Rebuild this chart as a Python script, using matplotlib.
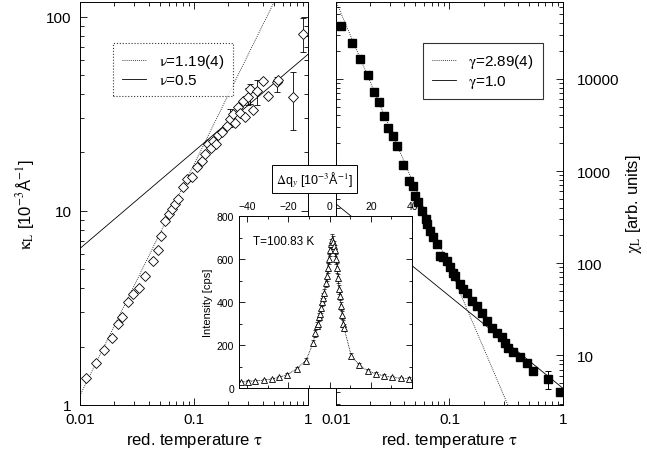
import matplotlib.pyplot as plt
from matplotlib.ticker import FuncFormatter, MultipleLocator, NullFormatter, LogLocator

plt.rcParams['font.family'] = 'Liberation Sans'
plt.rcParams['mathtext.fontset'] = 'stix'

# inverse correlation length kappa_L vs reduced temperature
tau_k = [0.0113, 0.0138, 0.0162, 0.0191, 0.0215, 0.0233, 0.0264, 0.0292, 0.033, 0.037,
         0.0437, 0.048, 0.051, 0.0557, 0.060, 0.064, 0.068, 0.0724, 0.080, 0.0866,
         0.096, 0.106, 0.117, 0.124, 0.133, 0.140, 0.147, 0.155, 0.162, 0.176,
         0.195, 0.207, 0.22, 0.23, 0.243, 0.255, 0.27, 0.28, 0.297, 0.31,
         0.33, 0.36, 0.40, 0.445, 0.53, 0.55, 0.74, 0.90]
kappa = [1.38, 1.65, 1.92, 2.21, 2.61, 2.84, 3.39, 3.73, 4.0, 4.63,
         5.5, 6.3, 7.4, 8.9, 9.6, 10.2, 10.8, 11.5, 13.3, 14.6,
         15.0, 16.8, 18.1, 19.6, 22.0, 21.0, 23.0, 22.0, 24.5, 25.5,
         27.5, 29.8, 31.6, 28.5, 34.4, 32.0, 37.0, 30.5, 38.7, 42.5,
         33.0, 41.5, 46.8, 39.0, 46.0, 47.0, 38.6, 81.0]
# points that carry error bars: tau, value, lower, upper
tau_k_err = [0.207, 0.297, 0.31, 0.36, 0.53, 0.74, 0.90]
kappa_err = [29.8, 38.7, 42.5, 41.5, 46.0, 38.6, 81.0]
kappa_lo = [27.0, 35.0, 35.6, 35.0, 41.0, 26.0, 66.0]
kappa_hi = [33.6, 43.0, 45.0, 47.0, 49.0, 52.0, 98.0]

# susceptibility chi_L vs reduced temperature
tau_c = [0.0111, 0.0138, 0.0163, 0.0191, 0.0216, 0.0239, 0.0265, 0.0287, 0.0318, 0.0345,
         0.039, 0.044, 0.0476, 0.0497, 0.053, 0.057, 0.0615, 0.063, 0.068, 0.072,
         0.077, 0.082, 0.088, 0.095, 0.101, 0.107, 0.112, 0.124, 0.131, 0.142,
         0.157, 0.174, 0.193, 0.214, 0.237, 0.262, 0.29, 0.308, 0.33, 0.36,
         0.42, 0.48, 0.54, 0.74, 0.94]
chi = [37800, 24600, 16500, 11000, 7200, 5600, 3960, 2940, 2400, 1870,
       1170, 780, 690, 535, 460, 370, 300, 265, 222, 192,
       161, 120, 118, 105, 91, 79, 72, 60, 52, 47,
       39, 34, 28.5, 23.5, 20, 17.7, 15.8, 13.5, 12, 10.8,
       9.6, 8.3, 6.7, 5.6, 4.0]
tau_c_err = [0.74]
chi_err = [5.6]
chi_lo = [4.3]
chi_hi = [6.8]

# power laws: exponent and amplitude at tau = 0.01
nu_exp = [1.19, 0.5]
nu_amp = [1.12, 6.4]
nu_labels = [r'$\mathrm{\nu}$=1.19(4)', r'$\mathrm{\nu}$=0.5']
gamma_exp = [2.89, 1.0]
gamma_amp = [69000, 440]
gamma_labels = [r'$\mathrm{\gamma}$=2.89(4)', r'$\mathrm{\gamma}$=1.0']

# transverse scan at T=100.83 K
dq = [-43, -39.5, -36, -32, -28, -24.5, -20.5, -16, -11.5, -8, -7, -6, -5.5, -5, -4.5,
      -4, -3.5, -3, -2.5, -2, -1.5, -1, -0.5, 0, 0.5, 1, 1.5, 2, 2.5, 3, 3.5,
      4, 4.5, 5, 5.5, 6, 6.5, 7, 10.5, 14.5, 18.5, 22.5, 26.5, 30.5, 34.5, 38.5]
inten = [28, 30, 34, 36, 42, 50, 62, 90, 128, 210, 255, 290, 300, 330, 345,
         370, 400, 420, 440, 490, 520, 560, 600, 640, 670, 690, 680, 660, 640, 600, 560,
         510, 460, 430, 380, 340, 300, 280, 150, 105, 80, 66, 56, 50, 45, 44]
inten_err = [5, 5, 5, 6, 6, 7, 8, 9, 11, 14, 16, 17, 17, 18, 18,
             19, 20, 20, 21, 22, 22, 23, 24, 25, 25, 26, 26, 25, 25, 24, 23,
             22, 21, 20, 19, 18, 17, 16, 12, 10, 9, 8, 7, 7, 6, 6]

tau_line = [0.01, 1.0]
plain = FuncFormatter(lambda v, p: f'{v:g}')

fig = plt.figure(figsize=(6.47, 4.6), dpi=100)
ax1 = fig.add_axes([0.1236, 0.1174, 0.3524, 0.876])
ax2 = fig.add_axes([0.5193, 0.1174, 0.3508, 0.876])

# left panel
styles = [(0, (1, 1.5)), '-']
for e, a, lab, ls in zip(nu_exp, nu_amp, nu_labels, styles):
    ax1.plot(tau_line, [a * (t / 0.01) ** e for t in tau_line], color='k', lw=0.6, ls=ls, label=lab)
ax1.errorbar(tau_k_err, kappa_err,
             yerr=[[v - l for v, l in zip(kappa_err, kappa_lo)], [h - v for v, h in zip(kappa_err, kappa_hi)]],
             fmt='none', ecolor='k', elinewidth=0.6, capsize=2, capthick=0.6)
ax1.plot(tau_k, kappa, 'D', ms=5, mfc='white', mec='k', mew=0.6, ls='none')
ax1.set_xscale('log')
ax1.set_yscale('log')
ax1.set_xlim(0.01, 1)
ax1.set_ylim(1, 119)
ax1.set_xlabel(r'red. temperature $\mathrm{\tau}$', fontsize=12, labelpad=3)
ax1.set_ylabel(r'$\mathrm{\kappa_L}$ [10$^{-3}$Å$^{-1}$]', fontsize=12)
ax1.yaxis.set_label_coords(-0.19, 0.5)
leg1 = ax1.legend(loc='upper left', bbox_to_anchor=(0.11, 0.918), fontsize=11, fancybox=False,
                  edgecolor='k', handlelength=1.6, borderpad=0.6, labelspacing=0.2)
leg1.get_frame().set_linestyle(':')
leg1.get_frame().set_linewidth(0.8)

# right panel
for e, a, lab, ls in zip(gamma_exp, gamma_amp, gamma_labels, styles):
    ax2.plot(tau_line, [a * (t / 0.01) ** (-e) for t in tau_line], color='k', lw=0.6, ls=ls, label=lab)
ax2.errorbar(tau_c_err, chi_err,
             yerr=[[v - l for v, l in zip(chi_err, chi_lo)], [h - v for v, h in zip(chi_err, chi_hi)]],
             fmt='none', ecolor='k', elinewidth=0.7, capsize=2, capthick=0.7)
ax2.plot(tau_c, chi, 's', ms=6, color='k', ls='none')
ax2.set_xscale('log')
ax2.set_yscale('log')
ax2.set_xlim(0.01, 1)
ax2.set_ylim(2.9, 68000)
ax2.set_xlabel(r'red. temperature $\mathrm{\tau}$', fontsize=12, labelpad=3)
ax2.yaxis.set_label_position('right')
ax2.set_ylabel(r'$\mathrm{\chi_L}$ [arb. units]', fontsize=12, labelpad=3)
leg2 = ax2.legend(loc='upper left', bbox_to_anchor=(0.348, 0.918), fontsize=11, fancybox=False,
                  edgecolor='k', handlelength=1.6, borderpad=0.6, labelspacing=0.2)
leg2.get_frame().set_linewidth(0.8)

for ax in (ax1, ax2):
    ax.xaxis.set_major_formatter(plain)
    ax.xaxis.set_minor_formatter(NullFormatter())
    ax.yaxis.set_major_formatter(plain)
    ax.yaxis.set_minor_formatter(NullFormatter())
    ax.yaxis.set_major_locator(LogLocator(base=10))
    ax.tick_params(which='both', direction='in', top=True, right=True, labelsize=11, width=0.6)
    ax.tick_params(which='major', length=5)
    ax.tick_params(which='minor', length=3)
    ax.tick_params(axis='x', pad=5)
    for s in ax.spines.values():
        s.set_linewidth(0.7)
ax2.tick_params(axis='y', labelleft=False, labelright=True, pad=10)
ax1.tick_params(axis='y', pad=6)

# inset: intensity scan
ax3 = fig.add_axes([0.3694, 0.1543, 0.2674, 0.3739])
ax3.errorbar(dq, inten, yerr=inten_err, fmt='none', ecolor='k', elinewidth=0.5, capsize=1.2, capthick=0.5)
ax3.plot(dq, inten, color='k', lw=0.6, ls=(0, (1, 1)))
ax3.plot(dq, inten, '^', ms=4, mfc='white', mec='k', mew=0.6, ls='none')
ax3.set_xlim(-44, 40)
ax3.set_ylim(0, 800)
ax3.xaxis.set_major_locator(MultipleLocator(20))
ax3.xaxis.set_minor_locator(MultipleLocator(10))
ax3.yaxis.set_major_locator(MultipleLocator(200))
ax3.yaxis.set_minor_locator(MultipleLocator(100))
ax3.tick_params(which='both', direction='in', top=True, bottom=True, right=True,
                labeltop=True, labelbottom=False, labelsize=7.5, width=0.6)
ax3.tick_params(which='major', length=4)
ax3.tick_params(which='minor', length=2)
ax3.set_ylabel('Intensity [cps]', fontsize=8, labelpad=3)
ax3.text(0.08, 0.855, 'T=100.83 K', transform=ax3.transAxes, fontsize=8.5, va='center')
ax3.text(0.436, 1.215, r'$\mathrm{\Delta}$q$_y$ [10$^{-3}$Å$^{-1}$]', transform=ax3.transAxes,
         fontsize=9, ha='center', va='center',
         bbox=dict(boxstyle='square,pad=0.35', fc='white', ec='k', lw=0.7))
for s in ax3.spines.values():
    s.set_linewidth(0.7)

fig.savefig('out.png', dpi=100)
